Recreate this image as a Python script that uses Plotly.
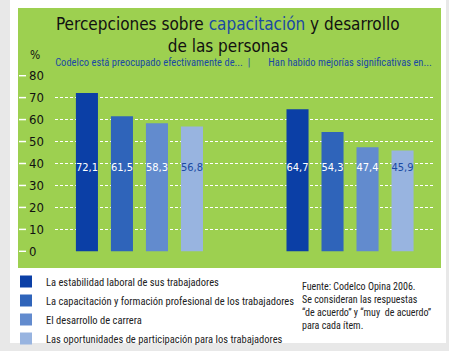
import plotly.graph_objects as go

categories = ["Codelco está preocupado efectivamente de...", "Han habido mejorías significativas en..."]
category_labels = ["\u00a0" * 11 + "Codelco está preocupado efectivamente de...\u00a0\u00a0|",
                   "Han habido mejorías significativas en..."]
series_names = [
    "La estabilidad laboral de sus trabajadores",
    "La capacitación y formación profesional de los trabajadores",
    "El desarrollo de carrera",
    "Las oportunidades de participación para los trabajadores",
]
estabilidad = [72.1, 64.7]
capacitacion = [61.5, 54.3]
desarrollo = [58.3, 47.4]
oportunidades = [56.8, 45.9]
series_values = [estabilidad, capacitacion, desarrollo, oportunidades]
y_ticks = [0, 10, 20, 30, 40, 50, 60, 70, 80]

colors = ["#0b3fa6", "#2f64ba", "#628bce", "#98b4e0"]
label_colors = ["white", "white", "white", "#1a4aa3"]
LABEL_Y = 38
GREEN = "#9dd050"
BLUE = "#1a4aa3"
NARROW = "Liberation Sans Narrow, Roboto Condensed, DejaVu Sans Condensed, Roboto, sans-serif"
TITLEF = "DejaVu Sans Condensed, Roboto Condensed, Roboto, sans-serif"

fig = go.Figure()
for name, vals, col in zip(series_names, series_values, colors):
    fig.add_trace(go.Bar(x=categories, y=vals, name=name, marker_color=col,
                         marker_line_width=0, hoverinfo="skip"))
for name, vals, tc in zip(series_names, series_values, label_colors):
    fig.add_trace(go.Scatter(x=categories, y=[LABEL_Y] * len(vals), mode="text",
                             text=[f"{v:.1f}".replace(".", ",") for v in vals],
                             textfont=dict(color=tc, size=11, family=TITLEF),
                             showlegend=False, hoverinfo="skip"))

W, H = 449, 351
L, R, T, B = 55, 16, 75, 99
pw, ph = W - L - R, H - T - B

def px(x):
    return (x - L) / pw

def py(y):
    return (H - B - y) / ph

shapes = [
    dict(type="rect", xref="paper", yref="paper", x0=px(10), x1=px(446), y0=py(343), y1=py(0),
         fillcolor="white", line_width=0, layer="below"),
    dict(type="rect", xref="paper", yref="paper", x0=px(18), x1=px(441), y0=py(268), y1=py(8),
         fillcolor=GREEN, line_width=0, layer="below"),
]
# white dash marks to the left of each y tick label
for t in y_ticks:
    shapes.append(dict(type="line", xref="paper", yref="y", x0=px(19), x1=px(26), y0=t, y1=t,
                       line=dict(color="white", width=1.5)))

def ytick_text(t):
    s = str(t)
    return s + "\u2007" * (2 - len(s))

fig.update_layout(
    width=W, height=H,
    margin=dict(l=L, r=R, t=T, b=B, autoexpand=False),
    paper_bgcolor="#e8e8e8",
    plot_bgcolor="rgba(0,0,0,0)",
    barmode="group", bargap=0.335, bargroupgap=0.37,
    scattermode="group", scattergap=0.335,
    shapes=shapes,
    xaxis=dict(side="top", range=[-0.401, 1.394], showgrid=False, zeroline=False, ticks="",
               tickmode="array", tickvals=categories, ticktext=category_labels, automargin=False,
               tickangle=0,
               tickfont=dict(family=NARROW, size=10.5, color=BLUE), ticklabelstandoff=6),
    yaxis=dict(range=[-0.3, 80.3], tickmode="array", tickvals=y_ticks, automargin=False,
               ticktext=[ytick_text(t) for t in y_ticks],
               tickfont=dict(family=TITLEF, size=13, color="#111"),
               showgrid=True, gridcolor="white", griddash="3px,2px", gridwidth=1,
               zeroline=False, ticklabelstandoff=10),
    legend=dict(xref="container", yref="container", x=6 / W, y=1 - 267 / H,
                xanchor="left", yanchor="top", bgcolor="rgba(0,0,0,0)",
                font=dict(family=NARROW, size=10.5, color="#222"), itemwidth=30, tracegroupgap=0,
                traceorder="normal"),
    annotations=[
        dict(text="Percepciones sobre <span style='color:#1a4aa3'>capacitación</span> y desarrollo<br>de las personas",
             xref="paper", yref="paper", x=px(228), y=py(12), xanchor="center", yanchor="top",
             showarrow=False, font=dict(family=TITLEF, size=17, color="#111")),
        dict(text="%", xref="paper", yref="paper", x=px(35), y=py(55), xanchor="center", yanchor="middle",
             showarrow=False, font=dict(family=TITLEF, size=12, color="#111")),
        dict(text="Fuente: Codelco Opina 2006.<br>Se consideran las respuestas<br>“de acuerdo” y “muy  de acuerdo”<br>para cada ítem.",
             xref="paper", yref="paper", x=px(300), y=py(279), xanchor="left", yanchor="top",
             align="left", showarrow=False, font=dict(family=NARROW, size=10, color="#222")),
    ],
)

fig.write_html("out.html")
